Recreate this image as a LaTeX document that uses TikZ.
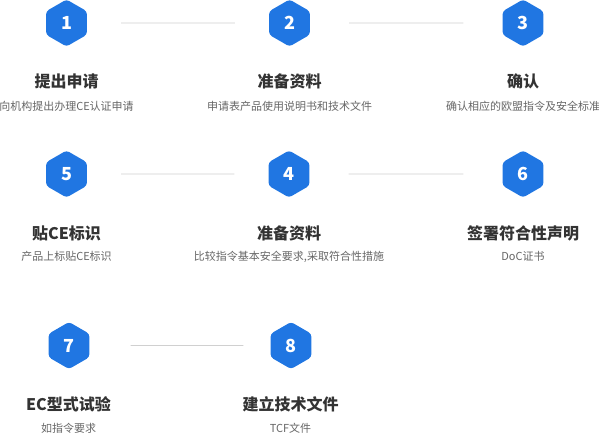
\documentclass[tikz,border=0pt]{standalone}
\usepackage{fontspec}
\setmainfont{Noto Sans CJK SC}
\usepackage{tikz}
\usetikzlibrary{shapes.geometric}
\definecolor{hexblue}{RGB}{32,118,226}
\definecolor{linegray}{RGB}{208,208,208}
\definecolor{titlecol}{RGB}{51,51,51}
\definecolor{subcol}{RGB}{102,102,102}
\tikzset{
  hexnum/.style={regular polygon, regular polygon sides=6, shape border rotate=30,
                 minimum size=47pt, inner sep=0pt, fill=hexblue, rounded corners=3pt,
                 text=white, font=\fontsize{18}{18}\selectfont\bfseries},
  ttl/.style={text=titlecol, font=\fontsize{16}{16}\selectfont\bfseries, inner sep=0pt},
  sub/.style={text=subcol, font=\fontsize{11}{11}\selectfont, inner sep=0pt},
  link/.style={draw=linegray, line width=0.8pt, shorten >=34pt, shorten <=34pt},
  linkw/.style={link, shorten >=39pt, shorten <=39pt},
}

\begin{document}
\begin{tikzpicture}[x=1pt, y=-1pt]
  \useasboundingbox (0,0) rectangle (599,434);
  % row 1
  \node[hexnum] (h1) at (66.5,23) {1};
  \node[hexnum] (h2) at (289.5,23) {2};
  \node[hexnum] (h3) at (523,23) {3};
  \node[ttl] (t1) at (66.5,81.5) {提出申请};
  \node[ttl] (t2) at (289.5,81.5) {准备资料};
  \node[ttl] (t3) at (523,81.5) {确认};
  \node[sub] (s1) at (66.5,106.5) {向机构提出办理CE认证申请};
  \node[sub] (s2) at (289.5,106.5) {申请表产品使用说明书和技术文件};
  \node[sub] (s3) at (523,106.5) {确认相应的欧盟指令及安全标准};
  % row 2
  \node[hexnum] (h5) at (66.5,174) {5};
  \node[hexnum] (h4) at (289,174) {4};
  \node[hexnum] (h6) at (523,174) {6};
  \node[ttl] (t5) at (66.5,233.5) {贴CE标识};
  \node[ttl] (t4) at (289,233.5) {准备资料};
  \node[ttl] (t6) at (523,233.5) {签署符合性声明};
  \node[sub] (s5) at (66.5,256.5) {产品上标贴CE标识};
  \node[sub] (s4) at (289,256.5) {比较指令基本安全要求,采取符合性措施};
  \node[sub] (s6) at (523,256.5) {DoC证书};
  % row 3
  \node[hexnum] (h7) at (69,345.5) {7};
  \node[hexnum] (h8) at (291,345.5) {8};
  \node[ttl] (t7) at (68.5,404.5) {EC型式试验};
  \node[ttl] (t8) at (290.5,404.5) {建立技术文件};
  \node[sub] (s7) at (68.5,428) {如指令要求};
  \node[sub] (s8) at (290.5,428) {TCF文件};
  % links
  \draw[link] (h1) -- (h2);
  \draw[linkw] (h2) -- (h3);
  \draw[link] (h5) -- (h4);
  \draw[linkw] (h4) -- (h6);
  \draw[link, shorten <=41pt, shorten >=27pt] (h7) -- (h8);
\end{tikzpicture}
\end{document}
